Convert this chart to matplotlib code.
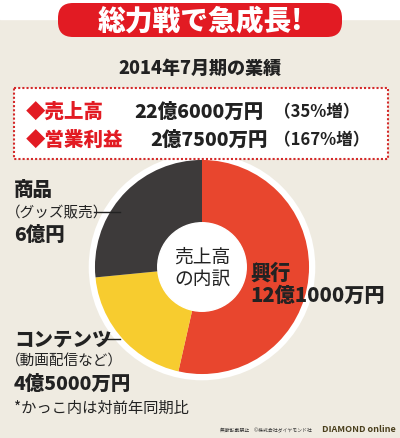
import matplotlib
matplotlib.use('Agg')
import matplotlib.pyplot as plt
from matplotlib.patches import FancyBboxPatch, Rectangle, Circle

plt.rcParams['font.family'] = ['Noto Sans CJK JP', 'DejaVu Sans']

segments = ['興行', 'コンテンツ', '商品']
values = [12.1, 4.5, 6.0]  # 億円
colors = ['#e8462e', '#f7cc2f', '#3d3a3a']

W, H = 400, 439
fig = plt.figure(figsize=(W / 100, H / 100), dpi=100)
fig.patch.set_facecolor('#efebe1')

# donut (drawn first, under the text layer)
cx, cy, r = 202, 268, 108
lim = 1.06
pax = fig.add_axes([(cx - r * lim) / W, 1 - (cy + r * lim) / H, 2 * r * lim / W, 2 * r * lim / H])
pax.pie(values, colors=colors, startangle=90, counterclock=False,
        wedgeprops=dict(edgecolor='none'))
pax.set_xlim(-lim, lim)
pax.set_ylim(-lim, lim)
pax.set_aspect('auto')
pax.add_patch(Circle((0, 0), 1.02, fill=False, ec='white', lw=4.5, zorder=4))
pax.add_patch(Circle((0, 0), 0.41, color='white', zorder=5))
pax.set_zorder(1)

ax = fig.add_axes([0, 0, 1, 1])
ax.set_zorder(2)
ax.patch.set_visible(False)
ax.set_xlim(0, W)
ax.set_ylim(H, 0)
ax.axis('off')

# white strip at top
ax.add_patch(Rectangle((0, 0), W, 20, color='white', zorder=0))
# title banner
ax.add_patch(FancyBboxPatch((58, 4), 284, 34, boxstyle='round,pad=0,rounding_size=15',
                            fc='#e21b23', ec='none', zorder=1))
ax.text(200, 21, '総力戦で急成長!', color='white', fontsize=20, fontweight='heavy',
        ha='center', va='center', zorder=2)
ax.text(200, 68, '2014年7月期の業績', fontsize=13, fontweight='heavy',
        ha='center', va='center', color='#222')

# summary box
ax.add_patch(Rectangle((14, 89), 374, 71, fc='white', ec='#d42a2a', lw=1.5,
                       ls=(0, (1, 1)), zorder=1))
ax.text(26, 112, '◆売上高', color='#e21b23', fontsize=14, fontweight='heavy', va='center')
ax.text(26, 140, '◆営業利益', color='#e21b23', fontsize=14, fontweight='heavy', va='center')
ax.text(134, 112, '22億6000万円', fontsize=14, fontweight='heavy', va='center', color='#222')
ax.text(150, 140, '2億7500万円', fontsize=14, fontweight='heavy', va='center', color='#222')
ax.text(274, 112, '（35%増）', fontsize=12, fontweight='bold', va='center', color='#222')
ax.text(274, 140, '（167%増）', fontsize=12, fontweight='bold', va='center', color='#222')

pax.text(0, 0, '売上高\nの内訳', fontsize=13.5, ha='center', va='center',
         linespacing=1.1, color='#222', zorder=6)

ax.text(14, 190, '商品', fontsize=14, fontweight='heavy', va='center', color='#222')
ax.text(6, 213, '（グッズ販売）', fontsize=10.5, va='center', color='#222')
ax.plot([94, 120], [213, 213], color='#222', lw=1)
ax.text(14, 235, '6億円', fontsize=14, fontweight='heavy', va='center', color='#222')

ax.text(250, 273, '興行', fontsize=14.5, fontweight='heavy', va='center', color='#222')
ax.text(250, 296, '12億1000万円', fontsize=14.5, fontweight='heavy', va='center', color='#222')

ax.text(14, 340, 'コンテンツ', fontsize=14, fontweight='heavy', va='center', color='#222')
ax.plot([102, 120], [340, 340], color='#222', lw=1)
ax.text(6, 362, '（動画配信など）', fontsize=10.5, va='center', color='#222')
ax.text(14, 384, '4億5000万円', fontsize=14, fontweight='heavy', va='center', color='#222')
ax.text(14, 408, '*かっこ内は対前年同期比', fontsize=11, va='center', color='#222')

ax.text(220, 430, '無断転載禁止　©株式会社ダイヤモンド社', fontsize=3.5, va='center', color='#333')
ax.text(396, 430, 'DIAMOND online', fontsize=6.5, fontweight='bold', va='center',
        ha='right', color='#4a3f1c')

fig.savefig('out.png', dpi=100, facecolor=fig.get_facecolor())
